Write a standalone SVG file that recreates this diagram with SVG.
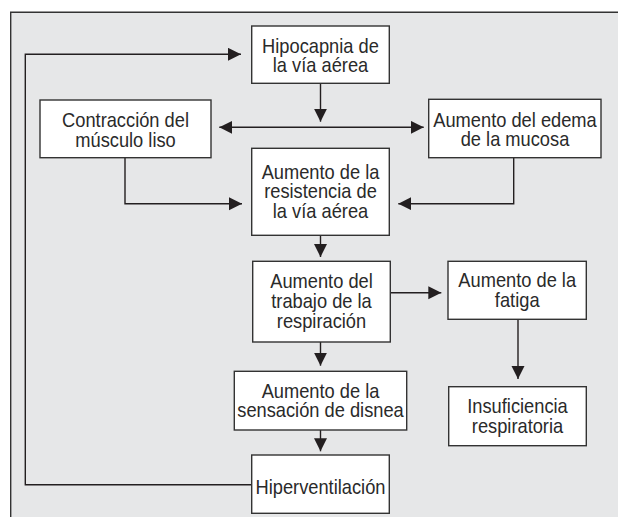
<svg xmlns="http://www.w3.org/2000/svg" width="618" height="517" viewBox="0 0 618 517">
  <defs>
    <style>
      .frame { fill: none; stroke: #333; stroke-width: 1.4; }
      .box { fill: #ffffff; stroke: #333; stroke-width: 1.4; }
      .conn { fill: none; stroke: #231f20; stroke-width: 1.4; }
      .lbl { font-family: "Liberation Sans", Arial, sans-serif; font-size: 21px; fill: #2a2a2a; text-anchor: middle; }
    </style>
    <marker id="ah" markerUnits="userSpaceOnUse" markerWidth="14" markerHeight="14" refX="13" refY="6.5" orient="auto-start-reverse">
      <path d="M0,0 L13,6.5 L0,13 Z" fill="#231f20"/>
    </marker>
  </defs>

  <rect x="0" y="0" width="618" height="517" fill="#ffffff"/>
  <rect x="10.7" y="12.3" width="608" height="506" fill="#e6e7e8"/>
  <path class="frame" d="M10.7,518 V12.3 H619"/>

  <g id="connectors">
    <line class="conn" x1="320.5" y1="83" x2="320.5" y2="121.7" marker-end="url(#ah)"/>
    <line class="conn" x1="219.3" y1="127.3" x2="423.7" y2="127.3" marker-start="url(#ah)" marker-end="url(#ah)"/>
    <path class="conn" d="M125,157.7 V203.7 H242" marker-end="url(#ah)"/>
    <path class="conn" d="M513.7,157.7 V203.7 H398.3" marker-end="url(#ah)"/>
    <line class="conn" x1="320.5" y1="235.3" x2="320.5" y2="257" marker-end="url(#ah)"/>
    <line class="conn" x1="390.3" y1="292.7" x2="441.3" y2="292.7" marker-end="url(#ah)"/>
    <line class="conn" x1="518" y1="319.3" x2="518" y2="379" marker-end="url(#ah)"/>
    <line class="conn" x1="320.5" y1="342" x2="320.5" y2="365.7" marker-end="url(#ah)"/>
    <line class="conn" x1="320.5" y1="430" x2="320.5" y2="451.3" marker-end="url(#ah)"/>
    <path class="conn" d="M251.7,484.7 H25.3 V54.3 H241" marker-end="url(#ah)"/>
  </g>

  <g id="hipocapnia">
    <rect class="box" x="251.7" y="26" width="137.6" height="57.3"/>
    <text class="lbl" transform="matrix(0.87 0 0 1 320.5 0)"><tspan x="0" y="53">Hipocapnia de</tspan><tspan x="0" y="72.5">la vía aérea</tspan></text>
  </g>

  <g id="contraccion">
    <rect class="box" x="40" y="100" width="171" height="57.7"/>
    <text class="lbl" transform="matrix(0.87 0 0 1 125.5 0)"><tspan x="0" y="127.3">Contracción del</tspan><tspan x="0" y="146.8">músculo liso</tspan></text>
  </g>

  <g id="edema">
    <rect class="box" x="428.7" y="99.3" width="172.3" height="58.4"/>
    <text class="lbl" transform="matrix(0.87 0 0 1 515 0)"><tspan x="0" y="127">Aumento del edema</tspan><tspan x="0" y="146.5">de la mucosa</tspan></text>
  </g>

  <g id="resistencia">
    <rect class="box" x="251.7" y="148.3" width="137.6" height="87"/>
    <text class="lbl" transform="matrix(0.87 0 0 1 320.5 0)"><tspan x="0" y="178.6">Aumento de la</tspan><tspan x="0" y="198.3">resistencia de</tspan><tspan x="0" y="218">la vía aérea</tspan></text>
  </g>

  <g id="trabajo">
    <rect class="box" x="252.7" y="261.3" width="137.6" height="80.7"/>
    <text class="lbl" transform="matrix(0.87 0 0 1 321.5 0)"><tspan x="0" y="288.5">Aumento del</tspan><tspan x="0" y="308.5">trabajo de la</tspan><tspan x="0" y="328.5">respiración</tspan></text>
  </g>

  <g id="fatiga">
    <rect class="box" x="448" y="261.3" width="138.3" height="58"/>
    <text class="lbl" transform="matrix(0.87 0 0 1 517.2 0)"><tspan x="0" y="287.5">Aumento de la</tspan><tspan x="0" y="307">fatiga</tspan></text>
  </g>

  <g id="insuficiencia">
    <rect class="box" x="448.7" y="386.7" width="137.6" height="59"/>
    <text class="lbl" transform="matrix(0.87 0 0 1 517.5 0)"><tspan x="0" y="413.5">Insuficiencia</tspan><tspan x="0" y="433.5">respiratoria</tspan></text>
  </g>

  <g id="sensacion">
    <rect class="box" x="234.3" y="371.3" width="172.4" height="58.7"/>
    <text class="lbl" transform="matrix(0.87 0 0 1 320.5 0)"><tspan x="0" y="398">Aumento de la</tspan><tspan x="0" y="417.5">sensación de disnea</tspan></text>
  </g>

  <g id="hiperventilacion">
    <rect class="box" x="251.7" y="455" width="137.6" height="58.3"/>
    <text class="lbl" transform="matrix(0.87 0 0 1 320.5 0)"><tspan x="0" y="494">Hiperventilación</tspan></text>
  </g>
</svg>
